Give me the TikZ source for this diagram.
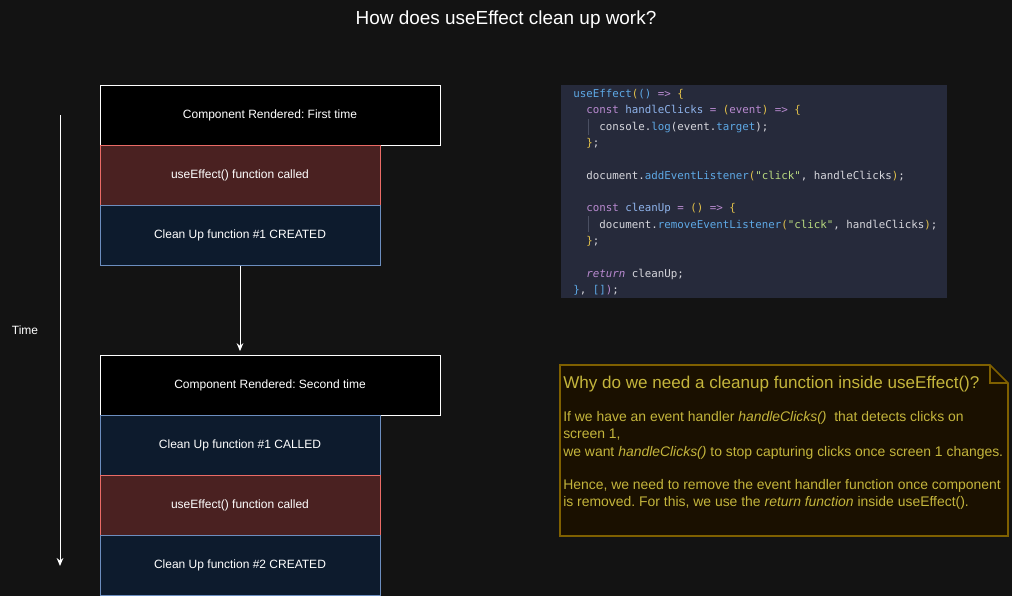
\documentclass[tikz,border=0pt]{standalone}
\usepackage{fontspec}
\setmainfont{Liberation Sans}
\newfontfamily\codefont{DejaVu Sans Mono}
\usetikzlibrary{arrows.meta}
\frenchspacing
\definecolor{bg}{HTML}{131313}
\definecolor{redfill}{HTML}{4A2121}
\definecolor{redline}{HTML}{EA6B66}
\definecolor{bluefill}{HTML}{0D1B2D}
\definecolor{blueline}{HTML}{6C8EBF}
\definecolor{codebg}{HTML}{262A3B}
\definecolor{notefill}{HTML}{1A1000}
\definecolor{noteline}{HTML}{7F6000}
\definecolor{notetext}{HTML}{C4B53C}
\definecolor{cw}{HTML}{D6D6DC}
\definecolor{ckw}{HTML}{B98AD0}
\definecolor{cfn}{HTML}{5EA9E6}
\definecolor{cid}{HTML}{8FB4EC}
\definecolor{cpar}{HTML}{E2C14A}
\definecolor{cstr}{HTML}{B9DA80}
\definecolor{guide}{HTML}{4A4F62}
\newcommand{\kw}[1]{\textcolor{ckw}{#1}}
\newcommand{\fn}[1]{\textcolor{cfn}{#1}}
\newcommand{\idn}[1]{\textcolor{cid}{#1}}
\newcommand{\pa}[1]{\textcolor{cpar}{#1}}
\newcommand{\st}[1]{\textcolor{cstr}{#1}}
\tikzset{
  x=0.75pt, y=-0.75pt,
  wide/.style={draw=white, fill=black, line width=0.75pt, minimum width=255pt, minimum height=45pt, inner sep=0pt, text=white, font=\fontsize{9}{11}\selectfont},
  redbox/.style={draw=redline, fill=redfill, line width=0.75pt, minimum width=210pt, minimum height=45pt, inner sep=0pt, text=white, font=\fontsize{9}{11}\selectfont},
  bluebox/.style={draw=blueline, fill=bluefill, line width=0.75pt, minimum width=210pt, minimum height=45pt, inner sep=0pt, text=white, font=\fontsize{9}{11}\selectfont},
  codeline/.style={anchor=base west, inner sep=0pt, text=cw, font=\codefont\fontsize{8.1}{10}\selectfont},
  noteline/.style={anchor=base west, inner sep=0pt, text=notetext, font=\fontsize{10.45}{12}\selectfont},
  arr/.style={draw=white, line width=0.75pt, -{Stealth[length=6pt,width=5pt]}},
}
\begin{document}
\begin{tikzpicture}
\fill[bg] (0,0) rectangle (1012,596);
\useasboundingbox (0,0) rectangle (1012,596);

\node[text=white, font=\fontsize{14.2}{17}\selectfont] (title) at (506,20) {How does useEffect clean up work?};

% first render
\node[wide] (r1) at (270,115) {Component Rendered: First time};
\node[redbox] (u1) at (240,175) {useEffect() function called};
\node[bluebox] (c1) at (240,235) {Clean Up function \#1 CREATED};

% second render
\node[wide] (r2) at (270,385) {Component Rendered: Second time};
\node[bluebox] (k1) at (240,445) {Clean Up function \#1 CALLED};
\node[redbox] (u2) at (240,505) {useEffect() function called};
\node[bluebox] (c2) at (240,565) {Clean Up function \#2 CREATED};

\draw[arr, shorten >=2.5pt] (c1.south) -- (c1.south |- r2.north);

% time axis
\coordinate (t0) at (60,115);
\coordinate (t1) at (60,566);
\draw[arr] (t0) -- (t1);
\node[text=white, font=\fontsize{9}{11}\selectfont] (time) at (25,330) {Time};

% code
\node[fill=codebg, minimum width=289.5pt, minimum height=159.75pt, inner sep=0pt, anchor=north west] (code) at (561,85) {};
\draw[guide, line width=0.75pt] (588,119) -- (588,135);
\draw[guide, line width=0.75pt] (588,216) -- (588,232);
\node[codeline] (l1) at (573,97) {\fn{useEffect}\pa{(}\fn{()} \kw{=>} \pa{\{}};
\node[codeline] (l2) at (586,113) {\kw{const} \idn{handleClicks} \kw{=} \pa{(}\kw{event}\pa{)} \kw{=>} \pa{\{}};
\node[codeline] (l3) at (599,130) {console.\fn{log}(event.\fn{target});};
\node[codeline] (l4) at (586,146) {\pa{\}};};
\node[codeline] (l6) at (586,179) {document.\fn{addEventListener}\pa{(}\st{"click"}, handleClicks\pa{)};};
\node[codeline] (l8) at (586,211) {\kw{const} \idn{cleanUp} \kw{=} \pa{()} \kw{=>} \pa{\{}};
\node[codeline] (l9) at (599,228) {document.\fn{removeEventListener}\pa{(}\st{"click"}, handleClicks\pa{)};};
\node[codeline] (l10) at (586,244) {\pa{\}};};
\node[codeline] (l12) at (586,277) {\kw{\itshape return} cleanUp;};
\node[codeline] (l13) at (573,293) {\fn{\}}, \fn{[]}\kw{)};};

% note
\draw[fill=notefill, draw=noteline, line width=1.2pt] (560,365) -- (990,365) -- (1008,383) -- (1008,536) -- (560,536) -- cycle;
\draw[draw=noteline, line width=1.2pt] (990,365) -- (990,383) -- (1008,383);
\node[noteline, font=\fontsize{12.8}{15}\selectfont] (n0) at (563,388) {Why do we need a cleanup function inside useEffect()?};
\node[noteline] (n1) at (563,421) {If we have an event handler \textit{handleClicks()}\ \ that detects clicks on};
\node[noteline] (n2) at (563,438) {screen 1,};
\node[noteline] (n3) at (563,456) {we want \textit{handleClicks()} to stop capturing clicks once screen 1 changes.};
\node[noteline] (n4) at (563,489) {Hence, we need to remove the event handler function once component};
\node[noteline] (n5) at (563,506) {is removed. For this, we use the \textit{return function} inside useEffect().};
\end{tikzpicture}
\end{document}
